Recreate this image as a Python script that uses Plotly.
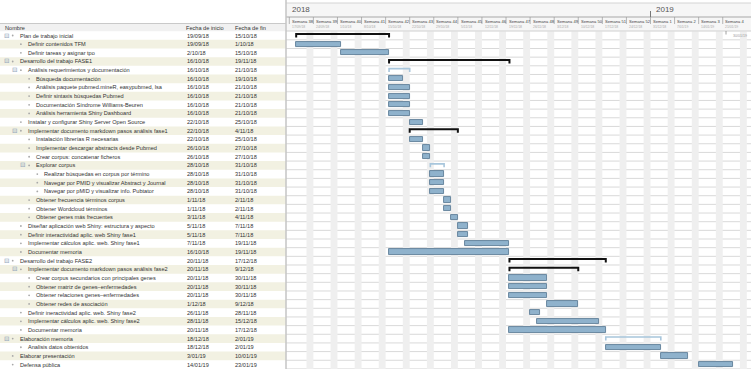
import plotly.graph_objects as go
from datetime import datetime, timedelta

# ---------------- data ----------------
names = [
    "Plan de trabajo inicial",
    "Definir contenidos TFM",
    "Definir tareas y asignar tpo",
    "Desarrollo del trabajo FASE1",
    "Análisis requerimientos y documentación",
    "Búsqueda documentación",
    "Análisis paquete pubmed.mineR, easypubmed, lsa",
    "Definir sintaxis búsquedas Pubmed",
    "Documentación Síndrome Williams-Beuren",
    "Análisis herramienta Shiny Dashboard",
    "Instalar y configurar Shiny Server Open Source",
    "Implementar documento markdown pasos análisis fase1",
    "Instalación librerías R necesarias",
    "Implementar descargar abstracts desde Pubmed",
    "Crear corpus: concatenar ficheros",
    "Explorar corpus",
    "Realizar búsquedas en corpus por término",
    "Navegar por PMID y visualizar Abstract y Journal",
    "Navegar por pMID y visualizar info. Pubtator",
    "Obtener frecuencia términos corpus",
    "Obtener Wordcloud términos",
    "Obtener genes más frecuentes",
    "Diseñar aplicación web Shiny: estructura y aspecto",
    "Definir interactividad aplic. web Shiny fase1",
    "Implementar cálculos aplic. web. Shiny fase1",
    "Documentar memoria",
    "Desarrollo del trabajo FASE2",
    "Implementar documento markdown pasos análisis fase2",
    "Crear corpus secundarios con principales genes",
    "Obtener matriz de genes–enfermedades",
    "Obtener relaciones genes–enfermedades",
    "Obtener redes de asociación",
    "Definir ineractividad aplic. web. Shiny fase2",
    "Implementar cálculos aplic. web. Shiny fase2",
    "Documentar memoria",
    "Elaboración memoria",
    "Analisis datos obtenidos",
    "Elaborar presentación",
    "Defensa pública",
]
levels = [0, 1, 1, 0, 1, 2, 2, 2, 2, 2, 1, 1, 2, 2, 2, 2, 3, 3, 3, 2, 2, 2,
          1, 1, 1, 1, 0, 1, 2, 2, 2, 2, 1, 1, 1, 0, 1, 0, 0]
starts = ["19/09/18", "19/09/18", "2/10/18", "16/10/18", "16/10/18", "16/10/18",
          "16/10/18", "16/10/18", "16/10/18", "16/10/18", "22/10/18", "22/10/18",
          "22/10/18", "26/10/18", "26/10/18", "28/10/18", "28/10/18", "28/10/18",
          "28/10/18", "1/11/18", "1/11/18", "3/11/18", "5/11/18", "5/11/18",
          "7/11/18", "16/10/18", "20/11/18", "20/11/18", "20/11/18", "20/11/18",
          "20/11/18", "1/12/18", "26/11/18", "28/11/18", "20/11/18", "18/12/18",
          "18/12/18", "3/01/19", "14/01/19"]
ends = ["15/10/18", "1/10/18", "15/10/18", "19/11/18", "21/10/18", "19/10/18",
        "21/10/18", "21/10/18", "21/10/18", "21/10/18", "25/10/18", "4/11/18",
        "25/10/18", "27/10/18", "27/10/18", "31/10/18", "31/10/18", "31/10/18",
        "31/10/18", "2/11/18", "2/11/18", "4/11/18", "7/11/18", "7/11/18",
        "19/11/18", "19/11/18", "17/12/18", "9/12/18", "30/11/18", "30/11/18",
        "30/11/18", "9/12/18", "28/11/18", "15/12/18", "17/12/18", "2/01/19",
        "2/01/19", "10/01/19", "23/01/19"]
# t = task bar, g = summary (black bracket), b = summary (light blue bracket)
kinds = ["g", "t", "t", "g", "b", "t", "t", "t", "t", "t", "t", "g", "t", "t", "t",
         "b", "t", "t", "t", "t", "t", "t", "t", "t", "t", "t", "g", "g", "t", "t",
         "t", "t", "t", "t", "t", "b", "t", "t", "t"]
header_cols = ["Nombre", "Fecha de inicio", "Fecha de fin"]
years = ["2018", "2019"]
end_marker = "30/01/19"
first_week = "17/09/18"
last_week = "21/01/19"

# ---------------- helpers ----------------
W, H = 751, 369
ROW0, ROWH = 35.5, 8.66
PX0, PXD = 289.3, 3.44
SPLIT = 286


def d(s):
    return datetime.strptime(s, "%d/%m/%y")


ORIGIN = d(first_week)


def px2date(px):
    return ORIGIN + timedelta(days=(px - PX0) / PXD)


def pyrow(py):
    return (py - ROW0) / ROWH


def fmt(dt):
    return f"{dt.day}/{dt.month:02d}/{dt.strftime('%y')}"


n = len(names)
sdates = [d(s) for s in starts]
edates = [d(e) + timedelta(days=1) for e in ends]

FONT = "Liberation Sans"
TXT = "#333333"

fig = go.Figure()
shapes = []
ann = []

# left table stripes
for i in range(n):
    if i % 2 == 1:
        shapes.append(dict(type="rect", xref="paper", yref="y", x0=0, x1=SPLIT / W,
                           y0=i - 0.5, y1=i + 0.5, fillcolor="#f2f1e2",
                           line=dict(width=0), layer="below"))
# left header band
shapes.append(dict(type="rect", xref="paper", yref="y", x0=0, x1=SPLIT / W,
                   y0=pyrow(23.5), y1=pyrow(31.2), fillcolor="#f1f1f1",
                   line=dict(width=0), layer="below"))
shapes.append(dict(type="line", xref="paper", yref="y", x0=0, x1=SPLIT / W,
                   y0=pyrow(23.5), y1=pyrow(23.5), line=dict(color="#c9c9c9", width=1)))
# right header background
shapes.append(dict(type="rect", xref="paper", yref="y", x0=SPLIT / W, x1=1,
                   y0=pyrow(3), y1=pyrow(31), fillcolor="#f6f6f6",
                   line=dict(width=0), layer="below"))
shapes.append(dict(type="line", xref="paper", yref="y", x0=SPLIT / W, x1=1,
                   y0=pyrow(3), y1=pyrow(3), line=dict(color="#d4d4d4", width=1)))
shapes.append(dict(type="line", xref="paper", yref="y", x0=SPLIT / W, x1=1,
                   y0=pyrow(17), y1=pyrow(17), line=dict(color="#a8a8a8", width=1)))
shapes.append(dict(type="line", xref="paper", yref="y", x0=SPLIT / W, x1=1,
                   y0=pyrow(31), y1=pyrow(31), line=dict(color="#d0d0d0", width=1)))
# divider
shapes.append(dict(type="line", xref="paper", yref="paper", x0=SPLIT / W, x1=SPLIT / W,
                   y0=0, y1=1, line=dict(color="#c4c4c4", width=1.5)))

# weekends (whole visible range)
day = ORIGIN
last = px2date(W)
while day < last:
    sat = day + timedelta(days=5)
    shapes.append(dict(type="rect", xref="x", yref="y", x0=sat, x1=sat + timedelta(days=2),
                       y0=pyrow(31.5), y1=pyrow(H), fillcolor="#efefef",
                       line=dict(width=0), layer="below"))
    day += timedelta(days=7)

# week header labels (Semana 38 ... Semana 4)
day = ORIGIN
while day <= d(last_week):
    shapes.append(dict(type="line", xref="x", yref="y", x0=day, x1=day,
                       y0=pyrow(17), y1=pyrow(24), line=dict(color="#9a9a9a", width=0.7)))
    wk = day.isocalendar()[1]
    ann.append(dict(x=day + timedelta(days=0.2), y=pyrow(21.5), xref="x", yref="y",
                    text=f"Semana {wk}", showarrow=False, xanchor="left", yanchor="middle",
                    font=dict(family=FONT, size=4.1, color="#444444")))
    ann.append(dict(x=day + timedelta(days=0.2), y=pyrow(27.3), xref="x", yref="y",
                    text=fmt(day), showarrow=False, xanchor="left", yanchor="middle",
                    font=dict(family=FONT, size=3.4, color="#a8a8a8")))
    day += timedelta(days=7)

# years
y2019 = datetime(2018, 12, 31)
ann.append(dict(x=PX0 / W + 0.001, y=pyrow(9), xref="paper", yref="y", text=years[0],
                showarrow=False, xanchor="left", yanchor="middle",
                font=dict(family=FONT, size=8, color="#555555")))
ann.append(dict(x=y2019 + timedelta(days=1), y=pyrow(9), xref="x", yref="y", text=years[1],
                showarrow=False, xanchor="left", yanchor="middle",
                font=dict(family=FONT, size=8, color="#555555")))
shapes.append(dict(type="line", xref="x", yref="y", x0=y2019, x1=y2019,
                   y0=pyrow(11), y1=pyrow(17), line=dict(color="#777777", width=1)))
# end marker
ann.append(dict(x=748.5 / W, y=pyrow(36), xref="paper", yref="y", text=end_marker,
                showarrow=False, xanchor="right", yanchor="middle",
                font=dict(family=FONT, size=3.6, color="#9a9a9a")))
shapes.append(dict(type="line", xref="paper", yref="y", x0=726 / W, x1=726 / W,
                   y0=pyrow(31), y1=pyrow(34.5), line=dict(color="#888888", width=0.8)))

# right row lines
for i in range(n):
    shapes.append(dict(type="line", xref="paper", yref="y", x0=SPLIT / W, x1=1,
                       y0=i + 0.5, y1=i + 0.5, line=dict(color="#d9d9d9", width=1),
                       layer="below"))

# task bars
ti = [i for i in range(n) if kinds[i] == "t"]
fig.add_trace(go.Bar(
    orientation="h",
    y=ti,
    base=[sdates[i] for i in ti],
    x=[(edates[i] - sdates[i]).total_seconds() * 1000 for i in ti],
    width=0.6,
    marker=dict(color="#8fb2cc", line=dict(color="#5f7f98", width=0.9)),
    hoverinfo="skip",
))

# summary brackets
for kind, col, lw in (("g", "#111111", 2.0), ("b", "#a8c6dc", 1.6)):
    xs, ys = [], []
    for i in range(n):
        if kinds[i] == kind:
            xs += [sdates[i], sdates[i], edates[i], edates[i], None]
            ys += [i + 0.22, i - 0.18, i - 0.18, i + 0.22, None]
    fig.add_trace(go.Scatter(x=xs, y=ys, mode="lines",
                             line=dict(color=col, width=lw), hoverinfo="skip"))

# table text
for txt, xp in zip(header_cols, (3, 184.3, 233)):
    ann.append(dict(x=xp / W, y=pyrow(27.7), xref="paper", yref="y", text=txt,
                    showarrow=False, xanchor="left", yanchor="middle",
                    font=dict(family=FONT, size=5.6, color=TXT)))

for i in range(n):
    lv = levels[i]
    bullet_x = 12.7 + 8.2 * lv
    text_x = 17.8 + 8.2 * lv
    if kinds[i] != "t":
        ann.append(dict(x=(bullet_x - 11) / W, y=i, xref="paper", yref="y", text="⊟",
                        showarrow=False, xanchor="left", yanchor="middle",
                        font=dict(family="DejaVu Sans", size=6.5, color="#8ea3b8")))
    shapes.append(dict(type="circle", xref="paper", yref="y",
                       x0=(bullet_x - 0.9) / W, x1=(bullet_x + 0.9) / W,
                       y0=i - 0.9 / ROWH, y1=i + 0.9 / ROWH,
                       fillcolor="#a8a8a8", line=dict(width=0)))
    ann.append(dict(x=text_x / W, y=i, xref="paper", yref="y", text=names[i],
                    showarrow=False, xanchor="left", yanchor="middle",
                    font=dict(family=FONT, size=5.6, color=TXT)))
    ann.append(dict(x=185 / W, y=i, xref="paper", yref="y", text=starts[i],
                    showarrow=False, xanchor="left", yanchor="middle",
                    font=dict(family=FONT, size=5.6, color=TXT)))
    ann.append(dict(x=233 / W, y=i, xref="paper", yref="y", text=ends[i],
                    showarrow=False, xanchor="left", yanchor="middle",
                    font=dict(family=FONT, size=5.6, color=TXT)))

fig.update_layout(
    width=W, height=H,
    margin=dict(l=0, r=0, t=0, b=0),
    paper_bgcolor="white", plot_bgcolor="rgba(0,0,0,0)",
    showlegend=False,
    xaxis=dict(type="date", domain=[SPLIT / W, 1], range=[px2date(SPLIT), px2date(W)],
               visible=False, showgrid=False, zeroline=False),
    yaxis=dict(range=[pyrow(H), pyrow(0)], domain=[0, 1], visible=False,
               showgrid=False, zeroline=False),
    shapes=shapes,
    annotations=ann,
    bargap=0,
)

fig.write_html("out.html")
